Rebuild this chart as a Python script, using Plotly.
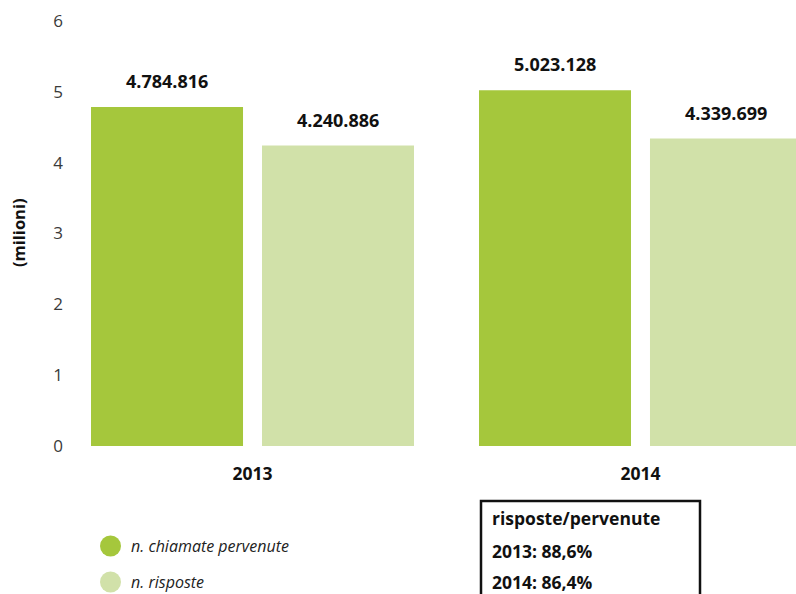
import plotly.graph_objects as go

# Call-centre volumes per year (in millions on the axis)
years = ["2013", "2014"]
pervenute = [4784816, 5023128]
risposte = [4240886, 4339699]
series_names = ["n. chiamate pervenute", "n. risposte"]
y_ticks = [0, 1, 2, 3, 4, 5, 6]

DARK = "#a5c73c"
LIGHT = "#d1e1a9"
FONT = "Open Sans"

W, H = 796, 594
ML, MR, MT, MB = 66, 0, 21, 148
PW, PH = W - ML - MR, H - MT - MB


def px(x):
    """Figure pixel x -> paper x."""
    return (x - ML) / PW


def py(y):
    """Figure pixel y (from top) -> paper y."""
    return (H - MB - y) / PH


def it_thousands(n):
    return f"{n:,}".replace(",", ".")


def it_pct(r):
    return f"{r * 100:.1f}".replace(".", ",") + "%"


fig = go.Figure()
fig.add_trace(go.Bar(x=years, y=[v / 1e6 for v in pervenute], name=series_names[0],
                     marker=dict(color=DARK, line=dict(width=0)), showlegend=False))
fig.add_trace(go.Bar(x=years, y=[v / 1e6 for v in risposte], name=series_names[1],
                     marker=dict(color=LIGHT, line=dict(width=0)), showlegend=False))

annotations = []
# Value labels above each bar
for i in range(len(years)):
    for vals, shift in ((pervenute, -85.5), (risposte, 85.5)):
        annotations.append(dict(
            x=i, y=vals[i] / 1e6, xref="x", yref="y", xshift=shift, yshift=12,
            text=f"<b>{it_thousands(vals[i])}</b>", showarrow=False,
            yanchor="bottom", xanchor="center",
            font=dict(family=FONT, size=18, color="#111111")))

# Y axis title
annotations.append(dict(
    x=px(19), y=py(233), xref="paper", yref="paper", text="<b>(milioni)</b>",
    textangle=-90, showarrow=False, xanchor="center", yanchor="middle",
    font=dict(family=FONT, size=16.5, color="#111111")))

# Legend drawn as circles + italic labels
shapes = []
legend_rows = [(series_names[0], DARK, 546), (series_names[1], LIGHT, 582)]
for label, col, yc in legend_rows:
    shapes.append(dict(type="circle", xref="paper", yref="paper",
                       x0=px(100), x1=px(121), y0=py(yc + 10.5), y1=py(yc - 10.5),
                       fillcolor=col, line=dict(width=0), layer="above"))
    annotations.append(dict(x=px(129), y=py(yc), xref="paper", yref="paper",
                            text=f"<i>{label}</i>", showarrow=False,
                            xanchor="left", yanchor="middle",
                            font=dict(family=FONT, size=16, color="#222222")))

# Ratio box
shapes.append(dict(type="rect", xref="paper", yref="paper",
                   x0=px(481), x1=px(700), y0=py(600), y1=py(501),
                   line=dict(color="#111111", width=2.5), fillcolor="rgba(0,0,0,0)"))
box_lines = [("<b>risposte/pervenute</b>", 518)]
for i, yr in enumerate(years):
    box_lines.append((f"<b>{yr}: {it_pct(risposte[i] / pervenute[i])}</b>", 551 + 31 * i))
for txt, yc in box_lines:
    annotations.append(dict(x=px(490), y=py(yc), xref="paper", yref="paper",
                            text=txt, showarrow=False, xanchor="left", yanchor="middle",
                            font=dict(family=FONT, size=17.5, color="#111111")))

fig.update_layout(
    width=W, height=H,
    margin=dict(l=ML, r=MR, t=MT, b=MB, pad=0),
    paper_bgcolor="white", plot_bgcolor="white",
    barmode="group", bargap=0.1186, bargroupgap=0.111,
    xaxis=dict(type="category", range=[-0.4807, 1.4008], showgrid=False, zeroline=False,
               showline=False, ticks="", ticklabelstandoff=15,
               tickfont=dict(family=FONT, size=17.5, color="#111111"),
               ticktext=[f"<b>{y}</b>" for y in years], tickvals=years),
    yaxis=dict(range=[0, 6], tickvals=y_ticks, showgrid=False, zeroline=False,
               showline=False, ticks="", ticklabelstandoff=2,
               tickfont=dict(family=FONT, size=17, color="#3a3a3a")),
    annotations=annotations, shapes=shapes,
    font=dict(family=FONT),
)

fig.write_html("out.html", config={"displayModeBar": False})
